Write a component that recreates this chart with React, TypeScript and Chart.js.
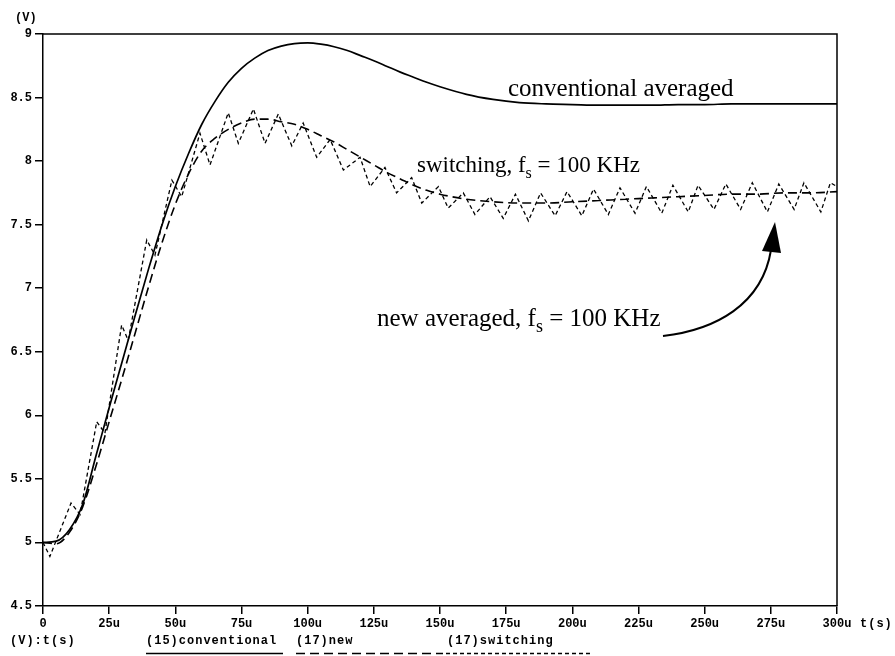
import { useEffect, useRef } from "react";
import { Chart, registerables } from "chart.js";

Chart.register(...registerables);

// ---- data (time in µs, voltage in V) ----
const avgTimes = [0, 5, 10, 15, 20, 25, 30, 35, 40, 45, 50, 55, 60, 65, 70, 75, 80, 85, 90, 95, 100, 105, 110, 115, 120, 125, 130, 135, 140, 145, 150, 160, 170, 180, 190, 200, 210, 220, 230, 240, 250, 260, 270, 280, 290, 300];
const conventionalV = [5.0, 5.01, 5.1, 5.3, 5.68, 6.06, 6.43, 6.8, 7.16, 7.5, 7.8, 8.06, 8.29, 8.47, 8.62, 8.73, 8.81, 8.87, 8.905, 8.925, 8.93, 8.92, 8.9, 8.87, 8.83, 8.79, 8.745, 8.7, 8.66, 8.62, 8.585, 8.525, 8.485, 8.46, 8.45, 8.445, 8.44, 8.44, 8.44, 8.445, 8.445, 8.45, 8.45, 8.45, 8.45, 8.45];
const newAveragedV = [5.0, 4.99, 5.08, 5.28, 5.6, 5.95, 6.3, 6.66, 7.02, 7.36, 7.66, 7.9, 8.08, 8.18, 8.25, 8.3, 8.33, 8.33, 8.31, 8.29, 8.25, 8.2, 8.15, 8.09, 8.03, 7.97, 7.91, 7.86, 7.81, 7.77, 7.74, 7.7, 7.68, 7.67, 7.67, 7.68, 7.69, 7.7, 7.71, 7.72, 7.73, 7.74, 7.74, 7.75, 7.75, 7.76];
const switchTimes = [0, 2.6, 10.6, 14, 20.3, 23.4, 29.7, 32.2, 39.2, 42.3, 48.7, 52.4, 59.3, 63.1, 70, 73.8, 79.5, 83.9, 88.9, 94, 98.3, 103.4, 108.5, 113.5, 119.8, 123.6, 129.2, 133.6, 139.3, 143.1, 149.4, 153.1, 158.8, 163.2, 168.9, 173.9, 178.5, 183.4, 188, 193.5, 198, 203.6, 208, 213.6, 218, 223.7, 228, 233.8, 238, 243.8, 247.5, 253.5, 258, 263.6, 268, 273.7, 278, 283.8, 287.5, 293.9, 297.5, 300];
const switchingV = [5.0, 4.89, 5.31, 5.22, 5.95, 5.86, 6.71, 6.59, 7.38, 7.26, 7.85, 7.72, 8.22, 7.97, 8.38, 8.14, 8.41, 8.14, 8.37, 8.12, 8.3, 8.03, 8.17, 7.93, 8.03, 7.8, 7.95, 7.75, 7.87, 7.67, 7.8, 7.63, 7.75, 7.58, 7.72, 7.55, 7.74, 7.53, 7.75, 7.57, 7.76, 7.57, 7.78, 7.58, 7.79, 7.59, 7.8, 7.59, 7.81, 7.6, 7.81, 7.62, 7.82, 7.62, 7.83, 7.6, 7.82, 7.62, 7.83, 7.6, 7.83, 7.8];

const xTickValues = [0, 25, 50, 75, 100, 125, 150, 175, 200, 225, 250, 275, 300];
const yTickValues = [4.5, 5, 5.5, 6, 6.5, 7, 7.5, 8, 8.5, 9];

const legendLabels = ["(V):t(s)", "(15)conventional", "(17)new", "(17)switching"];
const curveLabels = ["conventional averaged", "switching, ", "new averaged, "];

const MONO = '"Liberation Mono", "DejaVu Sans Mono", monospace';
const SERIF = '"Liberation Serif", "DejaVu Serif", serif';

function toPoints(xs: number[], ys: number[]) {
  return xs.map((x, i) => ({ x, y: ys[i] }));
}

function drawFsText(ctx: CanvasRenderingContext2D, prefix: string, x: number, y: number, size: number) {
  ctx.font = `${size}px ${SERIF}`;
  const part1 = prefix + "f";
  ctx.fillText(part1, x, y);
  let cx = x + ctx.measureText(part1).width;
  ctx.font = `${Math.round(size * 0.7)}px ${SERIF}`;
  ctx.fillText("s", cx, y + 6);
  cx += ctx.measureText("s").width;
  ctx.font = `${size}px ${SERIF}`;
  ctx.fillText(" = 100 KHz", cx, y);
}

const decorations = {
  id: "decorations",
  afterDraw(chart: any) {
    const ctx: CanvasRenderingContext2D = chart.ctx;
    const a = chart.chartArea;
    ctx.save();
    // frame (top and right)
    ctx.strokeStyle = "#000";
    ctx.lineWidth = 1.5;
    ctx.setLineDash([]);
    ctx.beginPath();
    ctx.moveTo(a.left, a.top);
    ctx.lineTo(a.right, a.top);
    ctx.lineTo(a.right, a.bottom);
    ctx.stroke();

    ctx.fillStyle = "#000";
    // axis unit labels
    ctx.font = `bold 12px ${MONO}`;
    ctx.textBaseline = "alphabetic";
    ctx.textAlign = "left";
    ctx.fillText("(V)", 15, 21);
    (ctx as any).letterSpacing = "1px";
    ctx.fillText("t(s)", 860, 627);

    // bottom legend
    ctx.fillText(legendLabels[0], 10, 644);
    ctx.fillText(legendLabels[1], 146, 644);
    ctx.fillText(legendLabels[2], 296, 644);
    ctx.fillText(legendLabels[3], 447, 644);
    (ctx as any).letterSpacing = "0px";

    ctx.lineWidth = 1.5;
    ctx.beginPath();
    ctx.moveTo(146, 653.5);
    ctx.lineTo(283, 653.5);
    ctx.stroke();
    ctx.setLineDash([9, 5]);
    ctx.beginPath();
    ctx.moveTo(296, 653.5);
    ctx.lineTo(443, 653.5);
    ctx.stroke();
    ctx.setLineDash([4, 3]);
    ctx.beginPath();
    ctx.moveTo(446, 653.5);
    ctx.lineTo(590, 653.5);
    ctx.stroke();
    ctx.setLineDash([]);

    // curve annotations
    ctx.font = `25px ${SERIF}`;
    ctx.fillText(curveLabels[0], 508, 96);
    drawFsText(ctx, curveLabels[1], 417, 172, 23);
    drawFsText(ctx, curveLabels[2], 377, 326, 25);

    // arrow
    ctx.lineWidth = 2;
    ctx.beginPath();
    ctx.moveTo(663, 336);
    ctx.bezierCurveTo(715, 330, 762, 305, 771, 250);
    ctx.stroke();
    ctx.beginPath();
    ctx.moveTo(775, 222);
    ctx.lineTo(781, 253);
    ctx.lineTo(762, 251);
    ctx.closePath();
    ctx.fill();

    ctx.restore();
  },
};

export default function App() {
  const canvasRef = useRef<HTMLCanvasElement | null>(null);

  useEffect(() => {
    document.body.style.margin = "0";
    const canvas = canvasRef.current;
    if (!canvas) return;
    const tickFont = { family: MONO, size: 12, weight: "bold" as const };
    const chart = new Chart(canvas, {
      type: "scatter",
      data: {
        datasets: [
          {
            label: "conventional",
            data: toPoints(avgTimes, conventionalV),
            showLine: true,
            borderColor: "#000",
            borderWidth: 1.7,
            pointRadius: 0,
            cubicInterpolationMode: "monotone",
          },
          {
            label: "new",
            data: toPoints(avgTimes, newAveragedV),
            showLine: true,
            borderColor: "#000",
            borderWidth: 1.6,
            borderDash: [9, 5],
            pointRadius: 0,
            cubicInterpolationMode: "monotone",
          },
          {
            label: "switching",
            data: toPoints(switchTimes, switchingV),
            showLine: true,
            borderColor: "#000",
            borderWidth: 1.3,
            borderDash: [4, 3],
            pointRadius: 0,
            tension: 0,
          },
        ],
      } as any,
      options: {
        animation: false,
        responsive: false,
        devicePixelRatio: 1,
        layout: { padding: { left: 0, right: 58, top: 34, bottom: 0 } },
        plugins: {
          legend: { display: false },
          tooltip: { enabled: false },
        },
        scales: {
          x: {
            type: "linear",
            min: 0,
            max: 300,
            afterBuildTicks: (s: any) => {
              s.ticks = xTickValues.map((v) => ({ value: v }));
            },
            afterFit: (s: any) => {
              s.height = 50;
            },
            ticks: {
              color: "#000",
              font: tickFont,
              padding: 3,
              maxRotation: 0,
              autoSkip: false,
              callback: (v: any) => (v === 0 ? "0" : `${v}u`),
            },
            grid: {
              display: true,
              drawOnChartArea: false,
              drawTicks: true,
              tickLength: 8,
              color: "#000",
              lineWidth: 1.5,
            },
            border: { display: true, color: "#000", width: 1.5 },
          },
          y: {
            type: "linear",
            min: 4.5,
            max: 9,
            afterBuildTicks: (s: any) => {
              s.ticks = yTickValues.map((v) => ({ value: v }));
            },
            afterFit: (s: any) => {
              s.width = 43;
            },
            ticks: {
              color: "#000",
              font: tickFont,
              padding: 3,
              autoSkip: false,
              callback: (v: any) => String(v),
            },
            grid: {
              display: true,
              drawOnChartArea: false,
              drawTicks: true,
              tickLength: 8,
              color: "#000",
              lineWidth: 1.5,
            },
            border: { display: true, color: "#000", width: 1.5 },
          },
        },
      } as any,
      plugins: [decorations],
    });
    return () => chart.destroy();
  }, []);

  return (
    <div style={{ position: "absolute", left: 0, top: 0, width: 895, height: 656, background: "#fff" }}>
      <canvas ref={canvasRef} width={895} height={656} style={{ display: "block" }} />
    </div>
  );
}
